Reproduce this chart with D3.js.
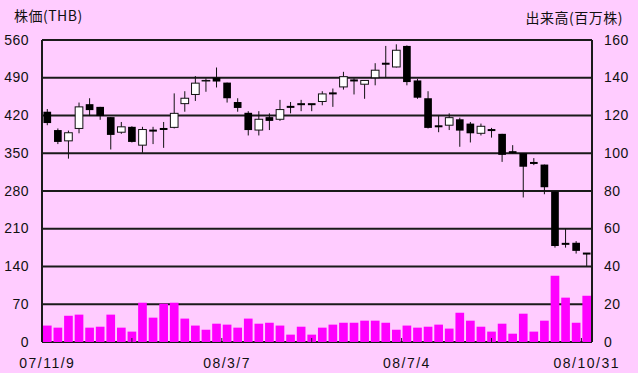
<!DOCTYPE html>
<html lang="ja">
<head>
<meta charset="UTF-8">
<title>株価チャート</title>
<style>
    body { margin: 0; background: #ffccff; }
    svg { display: block; }
    .lbl { font-family: "Liberation Sans", Arial, sans-serif; font-size: 14px; fill: #111; }
    .ttl { font-family: "Noto Sans CJK JP", sans-serif; font-size: 14px; fill: #111; }
</style>
<script src="https://d3js.org/d3.v7.min.js"></script>
</head>
<body>
<svg id="chart" width="638" height="373"></svg>
<script>
    // weekly candles, 07/11/9 .. 08/10/31
    const openP  = [427,393,373,396,441,436,417,389,399,365,392,395,398,442,459,484,490,481,445,425,
                    393,417,413,436,441,441,446,461,473,485,478,490,516,510,549,485,452,400,402,413,
                    405,387,393,386,352,350,332,329,279,182,184,164];
    const highP  = [432,396,392,444,452,436,417,408,400,399,399,408,461,465,493,489,509,481,452,428,
                    428,424,449,445,449,441,465,470,501,489,485,517,549,552,550,488,465,419,424,416,
                    408,405,397,386,365,350,341,329,279,210,187,164];
    const lowP   = [402,367,340,387,419,412,357,386,370,351,367,360,396,427,447,464,472,444,427,383,
                    383,393,410,424,428,428,439,436,468,459,451,476,490,509,476,451,396,389,393,362,
                    370,383,379,334,349,268,328,274,175,175,164,141];
    const closeP = [406,371,388,436,430,419,384,399,371,394,392,395,424,452,480,485,483,452,434,393,
                    413,410,431,436,441,441,460,461,492,485,485,504,516,541,482,453,397,400,416,392,
                    387,400,393,347,352,325,332,287,178,182,169,164];
    // volume, million shares
    const volume = [8.7,7.6,13.9,14.5,7.6,8.1,14.5,7.6,5.5,20.8,12.9,20.3,20.8,12.4,8.7,6.5,9.7,9.2,7.6,12.4,
                    9.7,10.2,8.7,3.9,8.1,3.9,7.6,9.2,10.2,10.2,11.3,11.3,10.2,6.5,8.7,7.6,8.1,9.2,7.1,15.5,
                    11.3,8.1,5.5,9.7,4.4,15.0,5.5,11.3,35.1,23.5,10.2,24.5];
    const dateLabels = [{i: 0, t: "07/11/9"}, {i: 17, t: "08/3/7"}, {i: 34, t: "08/7/4"}, {i: 51, t: "08/10/31"}];
    const priceTicks = [0, 70, 140, 210, 280, 350, 420, 490, 560];
    const volTicks = [0, 20, 40, 60, 80, 100, 120, 140, 160];

    const svg = d3.select("#chart");
    const margin = {left: 42, right: 592, top: 40, bottom: 342};

    const data = openP.map((o, i) => ({i, o, h: highP[i], l: lowP[i], c: closeP[i], v: volume[i]}));

    const x = d3.scaleBand().domain(d3.range(data.length)).range([margin.left, margin.right])
        .paddingInner(0.18).paddingOuter(0.09);
    const xi = d3.scaleLinear().domain([0, data.length]).range([margin.left, margin.right]);
    const y = d3.scaleLinear().domain([0, 560]).range([margin.bottom, margin.top]);
    const yv = d3.scaleLinear().domain([0, 160]).range([margin.bottom, margin.top]);

    // grid
    svg.append("g").selectAll("line").data(priceTicks).join("line")
        .attr("x1", margin.left).attr("x2", margin.right)
        .attr("y1", d => y(d)).attr("y2", d => y(d))
        .attr("stroke", "#1a1a1a").attr("stroke-width", 2);

    // volume bars
    svg.append("g").selectAll("rect").data(data).join("rect")
        .attr("x", d => x(d.i)).attr("width", x.bandwidth())
        .attr("y", d => yv(d.v)).attr("height", d => margin.bottom - yv(d.v))
        .attr("fill", "#ff00ff");

    // minor ticks on date axis
    svg.append("g").selectAll("line").data(d3.range(1, 7)).join("line")
        .attr("x1", k => xi(k * 8.5)).attr("x2", k => xi(k * 8.5))
        .attr("y1", margin.bottom).attr("y2", margin.bottom - 4)
        .attr("stroke", "#222").attr("stroke-width", 1);

    // candles
    const candles = svg.append("g").selectAll("g").data(data).join("g");
    candles.append("line")
        .attr("x1", d => x(d.i) + x.bandwidth() / 2).attr("x2", d => x(d.i) + x.bandwidth() / 2)
        .attr("y1", d => y(d.h)).attr("y2", d => y(d.l))
        .attr("stroke", "#111").attr("stroke-width", 1);
    candles.append("rect")
        .attr("x", d => x(d.i) + 0.5).attr("width", x.bandwidth() - 1)
        .attr("y", d => d.o === d.c ? y(d.o) - 1 : y(Math.max(d.o, d.c)))
        .attr("height", d => d.o === d.c ? 2 : Math.abs(y(d.o) - y(d.c)))
        .attr("fill", d => d.c > d.o ? "#fff" : "#000")
        .attr("stroke", "#111").attr("stroke-width", d => d.c > d.o ? 1 : 0);

    // frame
    svg.append("line").attr("x1", margin.left).attr("x2", margin.left)
        .attr("y1", margin.top).attr("y2", margin.bottom)
        .attr("stroke", "#1a1a1a").attr("stroke-width", 2);
    svg.append("line").attr("x1", margin.right).attr("x2", margin.right)
        .attr("y1", margin.top).attr("y2", margin.bottom)
        .attr("stroke", "#1a1a1a").attr("stroke-width", 2);

    // axis labels
    svg.append("g").selectAll("text").data(priceTicks).join("text")
        .attr("class", "lbl").attr("x", 29).attr("y", d => y(d) + 1)
        .attr("text-anchor", "end").attr("dominant-baseline", "middle")
        .style("letter-spacing", "0.5px")
        .text(d => d);
    svg.append("g").selectAll("text").data(volTicks).join("text")
        .attr("class", "lbl").attr("x", 604).attr("y", d => yv(d) + 1)
        .attr("dominant-baseline", "middle")
        .style("letter-spacing", "0.5px")
        .text(d => d);
    svg.append("g").selectAll("text").data(dateLabels).join("text")
        .attr("class", "lbl").attr("x", d => x(d.i) + x.bandwidth() / 2).attr("y", 368)
        .attr("text-anchor", "middle")
        .style("letter-spacing", "1.5px")
        .text(d => d.t);

    svg.append("text").attr("class", "ttl").attr("x", 14).attr("y", 21)
        .style("letter-spacing", "0.5px").text("株価(THB)");
    svg.append("text").attr("class", "ttl").attr("x", 623).attr("y", 23)
        .attr("text-anchor", "end").style("letter-spacing", "0.5px").text("出来高(百万株)");
</script>
</body>
</html>
